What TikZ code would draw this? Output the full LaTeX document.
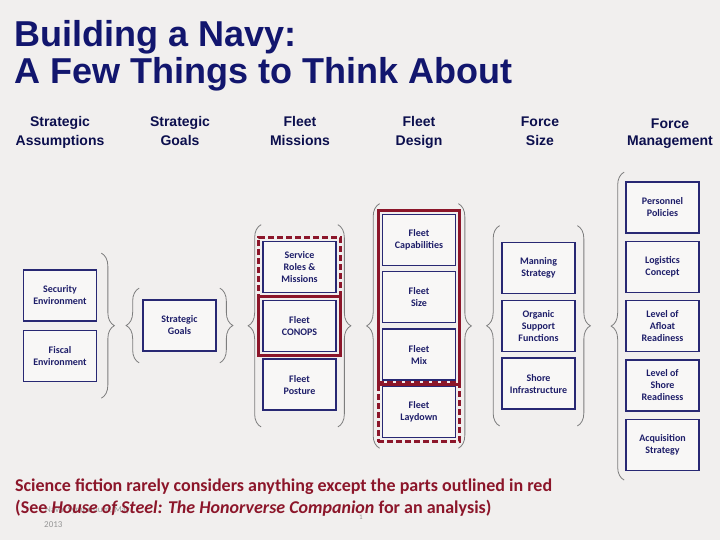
\documentclass[tikz,border=0pt]{standalone}
\usepackage{fontspec}
\setmainfont{Carlito}
\newfontfamily\headfont{Liberation Sans}
\usetikzlibrary{positioning,fit,decorations.pathreplacing}
\definecolor{navytitle}{RGB}{18,22,110}
\definecolor{navybox}{RGB}{40,40,115}
\definecolor{navytext}{RGB}{30,30,105}
\definecolor{redline}{RGB}{140,22,42}
\definecolor{slidebg}{RGB}{241,239,238}
\definecolor{bracegray}{RGB}{125,125,125}
\definecolor{footgray}{RGB}{150,150,150}

\tikzset{
  box/.style={draw=navybox, line width=1.3pt, fill=slidebg!50!white,
    minimum width=73pt, minimum height=51pt, inner sep=1pt, align=center,
    text=navytext, font=\bfseries\fontsize{10}{12}\selectfont},
  colhead/.style={align=center, inner sep=0pt, text=navytitle!70!black,
    font=\headfont\bfseries\fontsize{14}{19.5}\selectfont},
  redsolid/.style={draw=redline, line width=3pt, inner sep=3.5pt},
  reddash/.style={redsolid, dash pattern=on 6pt off 3pt},
  grp/.style={inner sep=0pt},
  curly/.style={draw=bracegray, line width=0.8pt, decorate,
    decoration={brace, amplitude=13pt}},
}

\begin{document}
\begin{tikzpicture}[x=1pt, y=-1pt]
  \fill[slidebg] (0,0) rectangle (720,540);
  \useasboundingbox (0,0) rectangle (720,540);

  % title
  \node[anchor=base west, inner sep=0pt, text=navytitle,
    font=\headfont\bfseries\fontsize{36}{38}\selectfont] (title1) at (14,47) {Building a Navy:};
  \node[anchor=base west, inner sep=0pt, text=navytitle,
    font=\headfont\bfseries\fontsize{36}{38}\selectfont] (title2) at (14,84) {A Few Things to Think About};

  % column heads
  \node[colhead, anchor=base] (hassump) at (60,146) {Strategic\\Assumptions};
  \node[colhead, anchor=base] (hgoals) at (180,146) {Strategic\\Goals};
  \node[colhead, anchor=base] (hmiss) at (300,146) {Fleet\\Missions};
  \node[colhead, anchor=base] (hdesign) at (419,146) {Fleet\\Design};
  \node[colhead, anchor=base] (hsize) at (540,146) {Force\\ Size};
  \node[colhead, anchor=base, font=\headfont\bfseries\fontsize{14}{17}\selectfont] (hmanage) at (670,146) {Force\\Management};

  % strategic assumptions
  \node[box] (security) at (60,295.5) {Security\\Environment};
  \node[box, below=8pt of security] (fiscal) {Fiscal\\Environment};

  % strategic goals
  \node[box] (goals) at (179.5,325.5) {Strategic\\Goals};

  % fleet missions
  \node[box] (roles) at (299.5,267) {Service\\Roles \&\\Missions};
  \node[box, below=7pt of roles] (conops) {Fleet\\CONOPS};
  \node[box, below=6pt of conops] (posture) {Fleet\\Posture};

  % fleet design
  \node[box] (capab) at (419,240) {Fleet\\Capabilities};
  \node[box, below=5pt of capab] (fsize) {Fleet\\Size};
  \node[box, below=5pt of fsize] (fmix) {Fleet\\Mix};
  \node[box, below=5pt of fmix] (laydown) {Fleet\\Laydown};

  % force size
  \node[box] (manning) at (538.5,268) {Manning\\Strategy};
  \node[box, below=5.5pt of manning] (organic) {Organic\\Support\\Functions};
  \node[box, below=5.5pt of organic] (shore) {Shore\\Infrastructure};

  % force management
  \node[box] (personnel) at (662.5,207.5) {Personnel\\Policies};
  \node[box, below=7pt of personnel] (logistics) {Logistics\\Concept};
  \node[box, below=7pt of logistics] (afloat) {Level of\\Afloat\\Readiness};
  \node[box, below=7pt of afloat] (shoreready) {Level of\\Shore\\Readiness};
  \node[box, below=7pt of shoreready] (acquis) {Acquisition\\Strategy};

  % parts outlined in red
  \node[reddash, fit=(roles)] (redroles) {};
  \node[redsolid, fit=(conops)] (redconops) {};
  \node[redsolid, fit=(capab)(fmix)] (reddesign) {};
  \node[reddash, fit=(laydown)] (redlaydown) {};

  % groups for the braces
  \node[grp, fit=(security)(fiscal), inner xsep=4pt, inner ysep=16pt] (g1) {};
  \node[grp, fit=(goals), inner xsep=3pt, inner ysep=11pt] (g2) {};
  \node[grp, fit=(roles)(posture), inner xsep=1pt, inner ysep=16pt] (g3) {};
  \node[grp, fit=(capab)(laydown), inner xsep=2pt, inner ysep=10pt] (g4) {};
  \node[grp, fit=(manning)(shore), inner xsep=1.5pt, inner ysep=16pt] (g5) {};
  \node[grp, fit=(personnel)(acquis), inner xsep=1pt, inner ysep=9pt] (g6) {};

  \draw[curly] (g1.north east) -- (g1.south east);
  \draw[curly] (g2.south west) -- (g2.north west);
  \draw[curly] (g2.north east) -- (g2.south east);
  \draw[curly] (g3.south west) -- (g3.north west);
  \draw[curly] (g3.north east) -- (g3.south east);
  \draw[curly] (g4.south west) -- (g4.north west);
  \draw[curly] (g4.north east) -- (g4.south east);
  \draw[curly] (g5.south west) -- (g5.north west);
  \draw[curly] (g5.north east) -- (g5.south east);
  \draw[curly] (g6.south west) -- (g6.north west);

  % footer
  \node[anchor=base west, inner sep=0pt, text=footgray, font=\fontsize{9}{11}\selectfont] (foot1) at (45,512) {Naval Symposium, May};
  \node[anchor=base west, inner sep=0pt, text=footgray, font=\fontsize{9}{11}\selectfont] (foot2) at (44,527) {2013};
  \node[anchor=base, inner sep=0pt, text=footgray, font=\fontsize{7}{8}\selectfont] (pagenum) at (361,519) {1};

  % note
  \node[anchor=base west, inner sep=0pt, text=redline, font=\bfseries\fontsize{18}{20}\selectfont] (note1) at (15,491)
    {Science fiction rarely considers anything except the parts outlined in red};
  \node[anchor=base west, inner sep=0pt, text=redline, font=\bfseries\fontsize{18}{20}\selectfont] (note2) at (15,513)
    {(See \textit{House of Steel: The Honorverse Companion} for an analysis)};
\end{tikzpicture}
\end{document}
